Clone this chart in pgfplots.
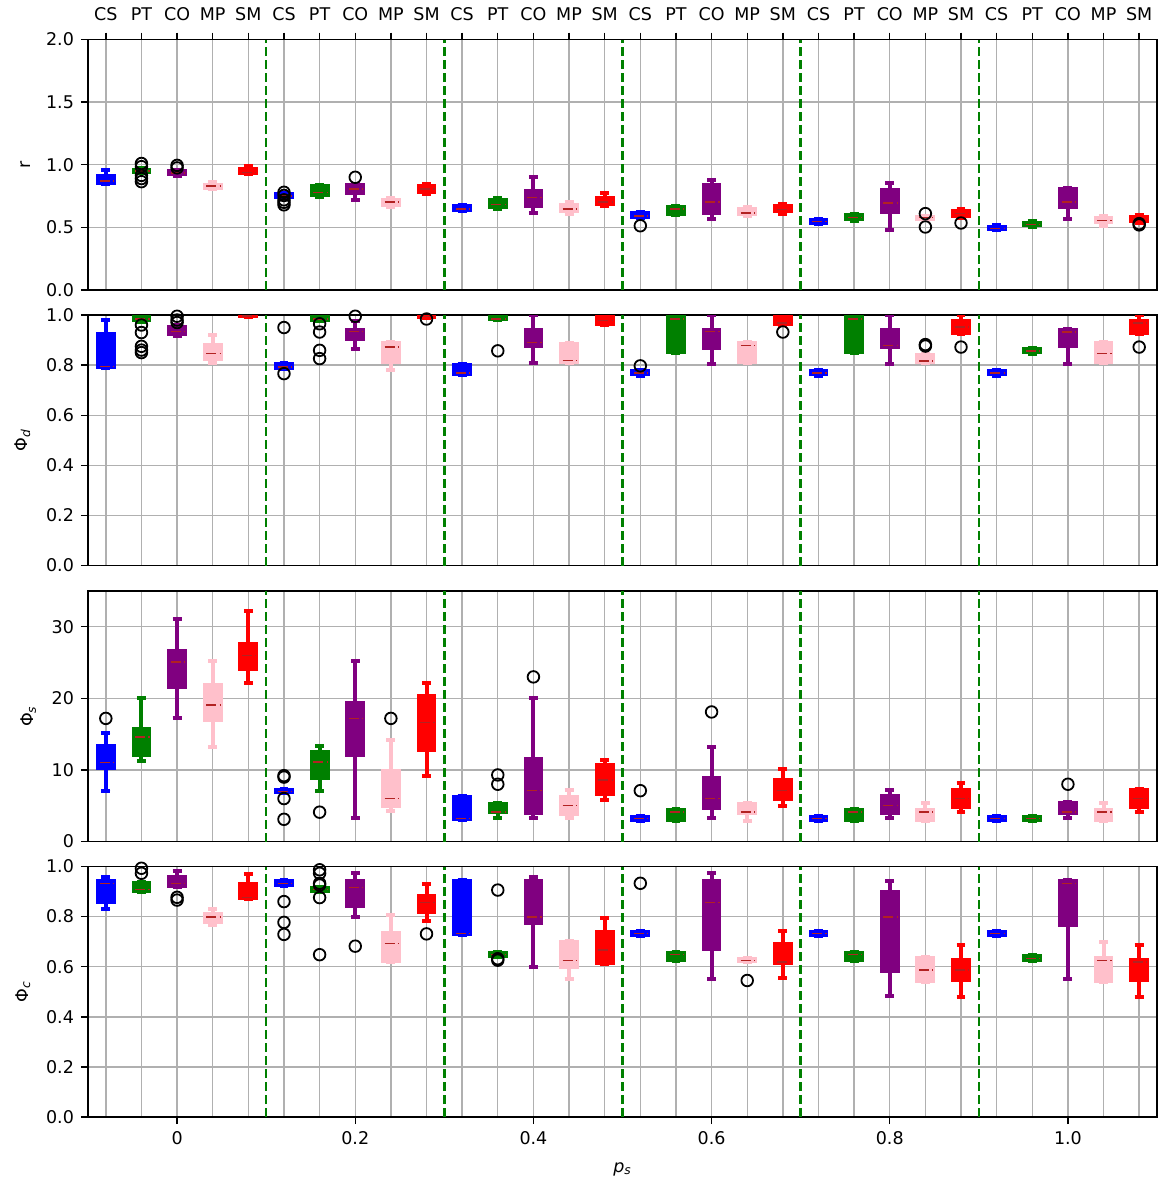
\documentclass[border=0pt]{standalone}
\usepackage{fontspec}
\setmainfont{DejaVu Sans}
\usepackage{pgfplots}
\pgfplotsset{compat=1.18}
\usepgfplotslibrary{statistics}

\definecolor{cBlue}{RGB}{0,0,255}
\definecolor{cGreen}{RGB}{0,128,0}
\definecolor{cPurple}{RGB}{128,0,128}
\definecolor{cPink}{RGB}{255,192,203}
\definecolor{cRed}{RGB}{255,0,0}
\definecolor{medcol}{RGB}{178,34,34}
\definecolor{gridgray}{RGB}{176,176,176}
\definecolor{sepgreen}{RGB}{0,128,0}

\newcommand{\lbl}{\fontsize{8.75}{10.5}\selectfont}

% box without outliers: position, colour, lower whisker, Q1, median, Q3, upper whisker
\newcommand{\bx}[7]{%
  \addplot[#2, fill=#2, line width=1pt,
    boxplot prepared={draw direction=y, draw position=#1, lower whisker=#3, lower quartile=#4,
      median=#5, upper quartile=#6, upper whisker=#7}]
    coordinates {};}
% box with outliers given as rows "v\\ ..."
\newcommand{\bxo}[8]{%
  \addplot[#2, fill=#2, line width=1pt, mark=o, mark size=2.9pt,
    mark options={draw=black, fill=none, line width=0.9pt, solid},
    boxplot prepared={draw direction=y, draw position=#1, lower whisker=#3, lower quartile=#4,
      median=#5, upper quartile=#6, upper whisker=#7}]
    table[row sep=\\, y index=0] {v\\ #8};}

% dashed separators between the p_s groups
\newcommand{\seps}[1]{%
  \pgfplotsinvokeforeach{4.5,9.5,14.5,19.5,24.5}{%
    \draw[sepgreen, line width=1.2pt, dash pattern=on 4.5pt off 2pt] (axis cs:##1,0) -- (axis cs:##1,#1);}}

\pgfplotsset{
  panel/.style={
    scale only axis, width=534.5pt, height=125.25pt, anchor=north west,
    xmin=-0.5, xmax=29.5, ymin=0,
    axis line style={line width=0.75pt},
    grid style={gridgray, line width=0.7pt},
    xmajorgrids, ymajorgrids,
    tick align=outside,
    major tick length=3.5pt,
    tick style={black, line width=0.7pt},
    ytick pos=left,
    tick label style={font=\lbl},
    label style={font=\lbl},
    ylabel shift=1pt,
    /pgf/number format/assume math mode=true,
    boxplot/draw direction=y,
    boxplot/box extend=0.5,
    boxplot/whisker extend=0.25,
    boxplot/every whisker/.style={line width=2pt},
    boxplot/every median/.style={draw=medcol, line width=0.75pt,
      dash pattern=on 0pt off 1.3pt on 5pt off 1.6pt on 0.6pt off 10pt},
  },
  frac1/.style={yticklabel style={/pgf/number format/.cd, fixed, fixed zerofill, precision=1}},
  nolabx/.style={xtick={0,...,29}, xticklabels={}, xtick style={draw=none}},
}

\begin{document}
\begin{tikzpicture}
\useasboundingbox (0,0) rectangle (580pt,-592pt);

% ---- r ----
\begin{axis}[panel, frac1, at={(44pt,-19.75pt)}, ymax=2, ytick={0,0.5,1,1.5,2},
  xtick={0,...,29}, xtick pos=right, xticklabel pos=right,
  xticklabel style={yshift=2.5pt},
  xticklabels={CS,PT,CO,MP,SM,CS,PT,CO,MP,SM,CS,PT,CO,MP,SM,CS,PT,CO,MP,SM,CS,PT,CO,MP,SM,CS,PT,CO,MP,SM},
  ylabel={r}]
\seps{2}
\bx{0}{cBlue}{0.85}{0.85}{0.87}{0.92}{0.955}
\bxo{1}{cGreen}{0.935}{0.935}{0.952}{0.968}{0.975}{1.01\\0.985\\0.915\\0.89\\0.865\\}
\bxo{2}{cPurple}{0.91}{0.915}{0.935}{0.955}{0.96}{0.995\\0.975\\}
\bx{3}{cPink}{0.805}{0.81}{0.829}{0.85}{0.86}
\bx{4}{cRed}{0.925}{0.928}{0.94}{0.975}{0.99}
\bxo{5}{cBlue}{0.738}{0.738}{0.749}{0.775}{0.775}{0.78\\0.755\\0.72\\0.70\\0.68\\}
\bx{6}{cGreen}{0.745}{0.75}{0.778}{0.835}{0.84}
\bxo{7}{cPurple}{0.722}{0.765}{0.805}{0.845}{0.85}{0.9\\}
\bx{8}{cPink}{0.663}{0.67}{0.703}{0.73}{0.738}
\bx{9}{cRed}{0.77}{0.775}{0.807}{0.84}{0.85}
\bx{10}{cBlue}{0.631}{0.631}{0.647}{0.682}{0.682}
\bx{11}{cGreen}{0.65}{0.655}{0.682}{0.73}{0.735}
\bx{12}{cPurple}{0.615}{0.663}{0.738}{0.797}{0.904}
\bx{13}{cPink}{0.61}{0.62}{0.647}{0.69}{0.703}
\bx{14}{cRed}{0.668}{0.675}{0.703}{0.743}{0.775}
\bxo{15}{cBlue}{0.578}{0.578}{0.59}{0.62}{0.62}{0.513\\}
\bx{16}{cGreen}{0.596}{0.6}{0.647}{0.67}{0.671}
\bx{17}{cPurple}{0.564}{0.61}{0.703}{0.845}{0.877}
\bx{18}{cPink}{0.588}{0.595}{0.615}{0.655}{0.663}
\bx{19}{cRed}{0.61}{0.62}{0.642}{0.68}{0.684}
\bx{20}{cBlue}{0.53}{0.53}{0.548}{0.57}{0.57}
\bx{21}{cGreen}{0.551}{0.555}{0.58}{0.605}{0.61}
\bx{22}{cPurple}{0.476}{0.618}{0.695}{0.81}{0.856}
\bxo{23}{cPink}{0.556}{0.56}{0.578}{0.59}{0.59}{0.61\\0.503\\}
\bxo{24}{cRed}{0.572}{0.58}{0.61}{0.64}{0.647}{0.535\\}
\bx{25}{cBlue}{0.476}{0.48}{0.492}{0.51}{0.516}
\bx{26}{cGreen}{0.503}{0.51}{0.524}{0.545}{0.551}
\bx{27}{cPurple}{0.567}{0.655}{0.703}{0.818}{0.818}
\bx{28}{cPink}{0.51}{0.535}{0.556}{0.585}{0.59}
\bxo{29}{cRed}{0.537}{0.545}{0.57}{0.59}{0.596}{0.53\\0.52\\}
\end{axis}

% ---- Phi_d ----
\begin{axis}[panel, frac1, nolabx, at={(44pt,-157.5pt)}, ymax=1, ytick={0,0.2,0.4,0.6,0.8,1},
  ylabel={Φ\textsubscript{\textit{d}}}]
\seps{1}
\bx{0}{cBlue}{0.789}{0.789}{0.794}{0.93}{0.979}
\bxo{1}{cGreen}{0.972}{0.975}{0.984}{1.0}{1.0}{0.96\\0.93\\0.875\\0.86\\0.85\\}
\bxo{2}{cPurple}{0.915}{0.92}{0.935}{0.955}{0.96}{0.995\\0.98\\0.97\\}
\bx{3}{cPink}{0.809}{0.819}{0.846}{0.886}{0.922}
\bx{4}{cRed}{0.992}{0.993}{0.997}{1.0}{1.0}
\bxo{5}{cBlue}{0.786}{0.786}{0.793}{0.809}{0.809}{0.95\\0.766\\}
\bxo{6}{cGreen}{0.976}{0.978}{0.984}{1.0}{1.0}{0.965\\0.932\\0.859\\0.826\\}
\bxo{7}{cPurple}{0.866}{0.899}{0.935}{0.946}{0.976}{0.995\\}
\bx{8}{cPink}{0.78}{0.81}{0.872}{0.892}{0.892}
\bxo{9}{cRed}{0.989}{0.99}{0.995}{1.0}{1.0}{0.984\\}
\bx{10}{cBlue}{0.76}{0.76}{0.769}{0.806}{0.806}
\bxo{11}{cGreen}{0.979}{0.98}{0.984}{1.0}{1.0}{0.857\\}
\bx{12}{cPurple}{0.809}{0.872}{0.89}{0.946}{1.0}
\bx{13}{cPink}{0.81}{0.81}{0.818}{0.89}{0.89}
\bx{14}{cRed}{0.959}{0.96}{0.979}{1.0}{1.0}
\bxo{15}{cBlue}{0.758}{0.76}{0.769}{0.78}{0.78}{0.797\\}
\bx{16}{cGreen}{0.849}{0.849}{0.984}{1.0}{1.0}
\bx{17}{cPurple}{0.806}{0.866}{0.935}{0.946}{1.0}
\bx{18}{cPink}{0.81}{0.81}{0.879}{0.892}{0.892}
\bxo{19}{cRed}{0.959}{0.96}{0.968}{1.0}{1.0}{0.932\\}
\bx{20}{cBlue}{0.758}{0.76}{0.769}{0.782}{0.782}
\bx{21}{cGreen}{0.849}{0.849}{0.984}{1.0}{1.0}
\bx{22}{cPurple}{0.806}{0.869}{0.879}{0.946}{1.0}
\bxo{23}{cPink}{0.809}{0.81}{0.817}{0.846}{0.846}{0.882\\0.876\\}
\bxo{24}{cRed}{0.926}{0.926}{0.952}{0.979}{1.0}{0.872\\}
\bx{25}{cBlue}{0.758}{0.76}{0.769}{0.78}{0.78}
\bx{26}{cGreen}{0.846}{0.848}{0.857}{0.869}{0.869}
\bx{27}{cPurple}{0.806}{0.872}{0.932}{0.946}{0.946}
\bx{28}{cPink}{0.81}{0.81}{0.846}{0.892}{0.892}
\bxo{29}{cRed}{0.926}{0.926}{0.968}{0.979}{1.0}{0.872\\}
\end{axis}

% ---- Phi_s ----
\begin{axis}[panel, nolabx, at={(44pt,-295.5pt)}, ymax=35, ytick={0,10,20,30},
  ylabel={Φ\textsubscript{\textit{s}}}]
\seps{35}
\bxo{0}{cBlue}{7.1}{10.2}{11.07}{13.5}{15.1}{17.2\\}
\bx{1}{cGreen}{11.2}{11.9}{14.6}{15.8}{20.1}
\bx{2}{cPurple}{17.3}{21.5}{25.1}{26.7}{31.1}
\bx{3}{cPink}{13.2}{16.9}{19.1}{22.0}{25.2}
\bx{4}{cRed}{22.1}{24.0}{26.0}{27.7}{32.2}
\bxo{5}{cBlue}{6.8}{6.8}{7.0}{7.4}{7.4}{9.2\\9.0\\6.0\\3.1\\}
\bxo{6}{cGreen}{7.1}{8.8}{11.1}{12.6}{13.3}{4.1\\}
\bx{7}{cPurple}{3.3}{11.9}{17.2}{19.5}{25.2}
\bxo{8}{cPink}{4.2}{4.8}{6.0}{10.0}{14.2}{17.2\\}
\bx{9}{cRed}{9.2}{12.6}{16.6}{20.5}{22.2}
\bx{10}{cBlue}{3.0}{3.0}{3.2}{6.4}{6.4}
\bxo{11}{cGreen}{3.3}{4.0}{4.1}{5.4}{5.4}{9.3\\8.0\\}
\bxo{12}{cPurple}{3.3}{3.8}{7.1}{11.7}{20.1}{23.0\\}
\bx{13}{cPink}{3.3}{3.7}{5.0}{6.4}{7.2}
\bx{14}{cRed}{5.8}{6.5}{8.6}{10.8}{11.4}
\bxo{15}{cBlue}{2.9}{2.9}{3.2}{3.6}{3.6}{7.1\\}
\bx{16}{cGreen}{2.9}{2.9}{4.1}{4.5}{4.5}
\bxo{17}{cPurple}{3.3}{4.6}{6.0}{9.0}{13.2}{18.1\\}
\bx{18}{cPink}{2.9}{3.8}{4.1}{5.4}{5.4}
\bx{19}{cRed}{5.0}{5.8}{7.1}{8.7}{10.2}
\bx{20}{cBlue}{2.9}{2.9}{3.2}{3.6}{3.6}
\bx{21}{cGreen}{2.9}{2.9}{4.1}{4.5}{4.5}
\bx{22}{cPurple}{3.3}{3.8}{5.0}{6.5}{7.2}
\bx{23}{cPink}{2.9}{2.9}{4.1}{4.5}{5.4}
\bx{24}{cRed}{4.1}{4.7}{6.0}{7.4}{8.2}
\bx{25}{cBlue}{2.9}{2.9}{3.2}{3.6}{3.6}
\bx{26}{cGreen}{2.9}{2.9}{3.2}{3.6}{3.6}
\bxo{27}{cPurple}{3.3}{3.8}{4.1}{5.5}{5.5}{8.0\\}
\bx{28}{cPink}{2.9}{2.9}{4.1}{4.5}{5.4}
\bx{29}{cRed}{4.1}{4.7}{6.0}{7.4}{7.4}
\end{axis}

% ---- Phi_c ----
\begin{axis}[panel, frac1, at={(44pt,-433.25pt)}, ymax=1, ytick={0,0.2,0.4,0.6,0.8,1},
  xtick={2,7,12,17,22,27}, xticklabels={0,0.2,0.4,0.6,0.8,1.0}, xtick pos=left,
  minor xtick={0,1,3,4,5,6,8,9,10,11,13,14,15,16,18,19,20,21,23,24,25,26,28,29},
  xminorgrids, minor grid style={gridgray, line width=0.7pt}, minor tick length=0pt,
  xlabel style={yshift=-2.5pt},
  ylabel={Φ\textsubscript{\textit{c}}}, xlabel={\textit{p}\textsubscript{\textit{s}}}]
\seps{1}
\bx{0}{cBlue}{0.83}{0.853}{0.933}{0.947}{0.96}
\bxo{1}{cGreen}{0.897}{0.9}{0.908}{0.94}{0.94}{0.993\\0.973\\}
\bxo{2}{cPurple}{0.917}{0.917}{0.933}{0.964}{0.983}{0.877\\0.866\\}
\bx{3}{cPink}{0.766}{0.775}{0.798}{0.815}{0.83}
\bx{4}{cRed}{0.87}{0.87}{0.877}{0.933}{0.969}
\bxo{5}{cBlue}{0.924}{0.924}{0.933}{0.947}{0.947}{0.86\\0.777\\0.729\\}
\bxo{6}{cGreen}{0.9}{0.9}{0.908}{0.92}{0.92}{0.987\\0.973\\0.933\\0.926\\0.876\\0.648\\}
\bxo{7}{cPurple}{0.797}{0.837}{0.917}{0.947}{0.973}{0.682\\}
\bx{8}{cPink}{0.619}{0.619}{0.693}{0.739}{0.806}
\bxo{9}{cRed}{0.783}{0.813}{0.856}{0.886}{0.929}{0.731\\}
\bx{10}{cBlue}{0.726}{0.726}{0.733}{0.947}{0.947}
\bxo{11}{cGreen}{0.639}{0.639}{0.648}{0.659}{0.659}{0.906\\0.632\\0.626\\}
\bx{12}{cPurple}{0.599}{0.77}{0.798}{0.947}{0.96}
\bx{13}{cPink}{0.552}{0.596}{0.624}{0.702}{0.702}
\bx{14}{cRed}{0.612}{0.612}{0.666}{0.742}{0.795}
\bxo{15}{cBlue}{0.723}{0.723}{0.733}{0.742}{0.742}{0.933\\}
\bx{16}{cGreen}{0.624}{0.624}{0.648}{0.659}{0.659}
\bx{17}{cPurple}{0.549}{0.668}{0.856}{0.947}{0.973}
\bxo{18}{cPink}{0.619}{0.619}{0.624}{0.635}{0.635}{0.545\\}
\bx{19}{cRed}{0.555}{0.612}{0.619}{0.695}{0.742}
\bx{20}{cBlue}{0.723}{0.723}{0.733}{0.742}{0.742}
\bx{21}{cGreen}{0.624}{0.624}{0.648}{0.659}{0.659}
\bx{22}{cPurple}{0.485}{0.579}{0.798}{0.902}{0.942}
\bx{23}{cPink}{0.539}{0.539}{0.586}{0.639}{0.639}
\bx{24}{cRed}{0.479}{0.544}{0.586}{0.632}{0.688}
\bx{25}{cBlue}{0.723}{0.723}{0.733}{0.742}{0.742}
\bx{26}{cGreen}{0.622}{0.622}{0.632}{0.646}{0.646}
\bx{27}{cPurple}{0.549}{0.763}{0.933}{0.947}{0.947}
\bx{28}{cPink}{0.539}{0.539}{0.624}{0.639}{0.697}
\bx{29}{cRed}{0.479}{0.544}{0.619}{0.632}{0.688}
\end{axis}
\end{tikzpicture}
\end{document}
